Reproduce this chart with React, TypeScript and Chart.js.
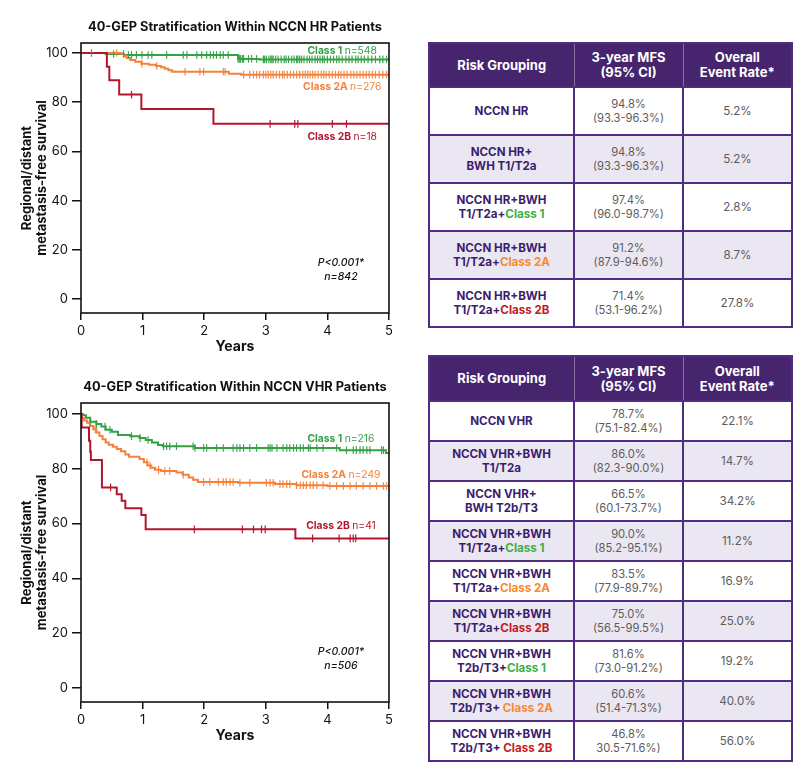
import React, { useEffect, useRef } from 'react';
import { Chart, registerables } from 'chart.js';

Chart.register(...registerables);

type Step = [number, number];

// ---------- Chart data ----------
const X_TICKS = [0, 1, 2, 3, 4, 5];
const Y_TICKS = [0, 20, 40, 60, 80, 100];

// NCCN HR patients: [years, survival %] step points
const HR_CLASS1_STEPS: Step[] = [[0, 100], [0.40, 99.6], [0.70, 99.2], [2.55, 97.6], [2.90, 97.4], [5, 97.4]];
const HR_CLASS1_CENSOR = [0.17, 0.53, 0.69, 0.77, 0.82, 0.90, 0.99, 1.09, 1.15, 1.39, 1.66, 1.72, 1.88, 1.96, 2.04, 2.10, 2.15, 2.20, 2.26, 2.31, 2.39, 2.55, 2.57, 2.59, 2.62, 2.64, 2.72, 2.77, 2.85, 2.96, 2.98, 3.01, 3.05, 3.08, 3.10, 3.12, 3.16, 3.20, 3.25, 3.30, 3.33, 3.37, 3.42, 3.46, 3.50, 3.52, 3.55, 3.58, 3.62, 3.67, 3.71, 3.75, 3.80, 3.84, 3.88, 3.92, 3.95, 4.00, 4.05, 4.10, 4.15, 4.19, 4.24, 4.30, 4.35, 4.40, 4.46, 4.50, 4.55, 4.60, 4.66, 4.72, 4.78, 4.85, 4.90, 4.96];
const HR_CLASS2A_STEPS: Step[] = [[0, 100], [0.66, 99.6], [0.70, 98.8], [0.74, 98.0], [0.80, 97.2], [0.88, 96.4], [0.98, 95.6], [1.10, 95.2], [1.22, 94.7], [1.30, 94.2], [1.36, 93.6], [1.42, 93.0], [1.48, 92.4], [2.40, 91.6], [2.60, 91.2], [5, 91.2]];
const HR_CLASS2A_CENSOR = [0.58, 0.99, 1.23, 1.69, 1.93, 1.99, 2.31, 2.34, 2.64, 2.74, 2.80, 2.85, 2.90, 2.96, 3.00, 3.04, 3.08, 3.12, 3.17, 3.22, 3.27, 3.30, 3.35, 3.40, 3.45, 3.50, 3.55, 3.60, 3.64, 3.68, 3.72, 3.76, 3.80, 3.85, 3.90, 3.94, 3.98, 4.03, 4.08, 4.13, 4.18, 4.22, 4.27, 4.32, 4.38, 4.43, 4.48, 4.53, 4.58, 4.63, 4.68, 4.73, 4.78, 4.84, 4.90, 4.96];
const HR_CLASS2B_STEPS: Step[] = [[0, 100], [0.42, 94.4], [0.46, 88.9], [0.62, 83.1], [0.98, 77.2], [2.15, 71.2], [5, 71.2]];
const HR_CLASS2B_CENSOR = [0.82, 3.07, 3.47, 3.52, 4.08, 4.31];

// NCCN VHR patients
const VHR_CLASS1_STEPS: Step[] = [[0, 100], [0.03, 99.5], [0.08, 98.6], [0.15, 97.2], [0.25, 96.3], [0.33, 95.4], [0.40, 94.2], [0.50, 93.5], [0.60, 92.3], [0.80, 91.9], [0.95, 91.2], [1.05, 90.5], [1.15, 89.6], [1.25, 88.7], [1.33, 88.2], [1.85, 87.6], [4.20, 86.8], [4.95, 85.8], [5, 85.8]];
const VHR_CLASS1_CENSOR = [0.15, 0.25, 0.39, 0.47, 0.82, 0.96, 1.09, 1.34, 1.39, 1.44, 1.55, 1.82, 1.85, 1.99, 2.04, 2.20, 2.31, 2.47, 2.53, 2.58, 2.64, 2.74, 2.85, 3.04, 3.07, 3.10, 3.18, 3.28, 3.34, 3.39, 3.45, 3.50, 3.56, 3.61, 3.69, 3.72, 3.83, 3.93, 4.15, 4.31, 4.42, 4.47, 4.53, 4.58, 4.64, 4.69, 4.88, 4.91];
const VHR_CLASS2A_STEPS: Step[] = [[0, 100], [0.01, 98.4], [0.05, 97.6], [0.10, 96.8], [0.15, 95.6], [0.20, 94.4], [0.25, 93.2], [0.30, 92.0], [0.35, 90.8], [0.40, 89.6], [0.45, 88.8], [0.52, 88.0], [0.58, 87.2], [0.65, 86.4], [0.72, 85.2], [0.78, 84.4], [0.95, 83.6], [1.02, 82.4], [1.08, 81.2], [1.14, 80.4], [1.20, 79.6], [1.30, 79.2], [1.55, 78.6], [1.65, 77.8], [1.75, 76.8], [1.82, 76.0], [1.90, 75.2], [2.55, 74.9], [3.15, 74.4], [3.50, 74.0], [4.00, 73.7], [5, 73.7]];
const VHR_CLASS2A_CENSOR = [0.23, 1.07, 1.12, 1.26, 1.36, 1.44, 1.66, 1.99, 2.09, 2.23, 2.31, 2.36, 2.42, 2.47, 2.58, 2.74, 3.01, 3.07, 3.12, 3.23, 3.28, 3.34, 3.39, 3.50, 3.56, 3.61, 3.66, 3.72, 3.77, 3.83, 3.93, 4.04, 4.15, 4.26, 4.37, 4.47, 4.58, 4.69, 4.80, 4.91, 4.96];
const VHR_CLASS2B_STEPS: Step[] = [[0, 100], [0.01, 95.1], [0.13, 90.2], [0.15, 86.2], [0.16, 83.2], [0.34, 73.2], [0.58, 70.7], [0.66, 68.3], [0.72, 65.6], [0.98, 63.1], [1.05, 57.9], [3.48, 54.6], [5, 54.6]];
const VHR_CLASS2B_CENSOR = [0.48, 1.84, 2.62, 2.80, 2.93, 2.99, 3.76, 4.19, 4.37, 4.42, 4.46];

// ---------- Table data ----------
const HR_GROUP_LINE1 = ['NCCN HR', 'NCCN HR+', 'NCCN HR+BWH', 'NCCN HR+BWH', 'NCCN HR+BWH'];
const HR_GROUP_LINE2 = ['', 'BWH T1/T2a', 'T1/T2a+', 'T1/T2a+', 'T1/T2a+'];
const HR_GROUP_CLASS = ['', '', 'Class 1', 'Class 2A', 'Class 2B'];
const HR_MFS = ['94.8%', '94.8%', '97.4%', '91.2%', '71.4%'];
const HR_CI = ['(93.3-96.3%)', '(93.3-96.3%)', '(96.0-98.7%)', '(87.9-94.6%)', '(53.1-96.2%)'];
const HR_EVENT = ['5.2%', '5.2%', '2.8%', '8.7%', '27.8%'];

const VHR_GROUP_LINE1 = ['NCCN VHR', 'NCCN VHR+BWH', 'NCCN VHR+', 'NCCN VHR+BWH', 'NCCN VHR+BWH', 'NCCN VHR+BWH', 'NCCN VHR+BWH', 'NCCN VHR+BWH', 'NCCN VHR+BWH'];
const VHR_GROUP_LINE2 = ['', 'T1/T2a', 'BWH T2b/T3', 'T1/T2a+', 'T1/T2a+', 'T1/T2a+', 'T2b/T3+', 'T2b/T3+ ', 'T2b/T3+ '];
const VHR_GROUP_CLASS = ['', '', '', 'Class 1', 'Class 2A', 'Class 2B', 'Class 1', 'Class 2A', 'Class 2B'];
const VHR_MFS = ['78.7%', '86.0%', '66.5%', '90.0%', '83.5%', '75.0%', '81.6%', '60.6%', '46.8%'];
const VHR_CI = ['(75.1-82.4%)', '(82.3-90.0%)', '(60.1-73.7%)', '(85.2-95.1%)', '(77.9-89.7%)', '(56.5-99.5%)', '(73.0-91.2%)', '(51.4-71.3%)', '30.5-71.6%)'];
const VHR_EVENT = ['22.1%', '14.7%', '34.2%', '11.2%', '16.9%', '25.0%', '19.2%', '40.0%', '56.0%'];

// ---------- Styles ----------
const FONT = 'Inter, "Noto Sans", "DejaVu Sans", sans-serif';
const LINE_COLORS = { c1: '#35a046', c2a: '#f6813a', c2b: '#b3172f' };
const CENSOR_COLORS = { c1: 'rgba(53,160,70,0.95)', c2a: 'rgba(246,129,58,0.95)', c2b: 'rgba(179,23,47,1)' };
const TABLE_CLASS_COLORS: Record<string, string> = { 'Class 1': '#3cae48', 'Class 2A': '#f7892f', 'Class 2B': '#c41a1f' };
const PURPLE = '#46246e';
const GRID_PURPLE = '#4e2d82';
const TEXT_PURPLE = '#3b1d6e';
const LAVENDER = '#ebe7f2';

function survivalAt(steps: Step[], t: number): number {
  let s = steps[0][1];
  for (const [x, y] of steps) {
    if (x <= t) s = y;
    else break;
  }
  return s;
}

type Label = { bold: string; normal: string; color: string; x: number; y: number; italic?: boolean };

const overlayPlugin = {
  id: 'overlay',
  afterDatasetsDraw(chart: any, _args: any, opts: any) {
    const { ctx, chartArea: a, scales } = chart;
    ctx.save();
    ctx.strokeStyle = '#111';
    ctx.lineWidth = 1.6;
    ctx.strokeRect(a.left, a.top, a.right - a.left, a.bottom - a.top);
    ctx.fillStyle = '#111';
    ctx.font = `bold 12.8px ${FONT}`;
    ctx.textAlign = 'center';
    ctx.textBaseline = 'middle';
    ctx.fillText(opts.title, opts.titleX, opts.titleY);
    for (const l of opts.labels as Label[]) {
      const px = scales.x.getPixelForValue(l.x);
      const py = scales.y.getPixelForValue(l.y);
      ctx.fillStyle = l.color;
      if (l.italic) {
        ctx.font = `italic 500 10.5px ${FONT}`;
        ctx.textAlign = 'center';
        ctx.fillText(l.bold, px, py);
        continue;
      }
      ctx.font = `bold 10.3px ${FONT}`;
      const w1 = ctx.measureText(l.bold).width;
      ctx.font = `10.3px ${FONT}`;
      const w2 = ctx.measureText(l.normal).width;
      const sx = px - (w1 + w2) / 2;
      ctx.textAlign = 'left';
      ctx.font = `bold 10.3px ${FONT}`;
      ctx.fillText(l.bold, sx, py);
      ctx.font = `10.3px ${FONT}`;
      ctx.fillText(l.normal, sx + w1, py);
    }
    ctx.restore();
  },
};

type KMProps = {
  top: number;
  height: number;
  padBottom: number;
  yMin: number;
  yMax: number;
  title: string;
  series: { steps: Step[]; censor: number[]; key: 'c1' | 'c2a' | 'c2b' }[];
  labels: Label[];
};

function KMChart(p: KMProps) {
  const ref = useRef<HTMLCanvasElement | null>(null);
  useEffect(() => {
    if (!ref.current) return;
    const datasets: any[] = [];
    for (const s of p.series) {
      datasets.push({
        data: s.steps.map(([x, y]) => ({ x, y })),
        showLine: true,
        stepped: 'before',
        borderColor: LINE_COLORS[s.key],
        borderWidth: 2,
        pointRadius: 0,
        fill: false,
        order: 2,
      });
      datasets.push({
        data: s.censor.map((t) => ({ x: t, y: survivalAt(s.steps, t) })),
        showLine: false,
        pointStyle: 'line',
        rotation: 90,
        pointRadius: 3.8,
        pointBorderWidth: 1.2,
        borderWidth: 1.2,
        borderColor: CENSOR_COLORS[s.key],
        pointBorderColor: CENSOR_COLORS[s.key],
        order: 1,
      });
    }
    const chart = new Chart(ref.current, {
      type: 'scatter',
      data: { datasets },
      plugins: [overlayPlugin as any],
      options: {
        animation: false,
        responsive: false,
        events: [],
        layout: { padding: { left: 0, right: 11, top: 43, bottom: p.padBottom } },
        plugins: {
          legend: { display: false },
          tooltip: { enabled: false },
          overlay: { title: p.title, titleX: 235, titleY: 27, labels: p.labels },
        } as any,
        scales: {
          x: {
            type: 'linear',
            min: 0,
            max: 5,
            afterBuildTicks: (s: any) => { s.ticks = X_TICKS.map((v) => ({ value: v })); },
            afterFit: (s: any) => { s.height = 47; },
            grid: { display: true, drawOnChartArea: false, drawTicks: true, tickLength: 7, color: '#111', lineWidth: 1.5 },
            border: { display: false },
            ticks: { color: '#111', font: { family: FONT, size: 13 }, padding: 3, maxRotation: 0 },
            title: { display: true, text: 'Years', color: '#111', font: { family: FONT, size: 14, weight: 'bold' }, padding: { top: 0, bottom: 5 } },
          },
          y: {
            type: 'linear',
            min: p.yMin,
            max: p.yMax,
            afterBuildTicks: (s: any) => { s.ticks = Y_TICKS.map((v) => ({ value: v })); },
            afterFit: (s: any) => { s.width = 81; },
            grid: { display: true, drawOnChartArea: false, drawTicks: true, tickLength: 9, color: '#111', lineWidth: 1.5 },
            border: { display: false },
            ticks: { color: '#111', font: { family: FONT, size: 13 }, padding: 4 },
            title: {
              display: true,
              text: ['Regional/distant', 'metastasis-free survival'],
              color: '#111',
              font: { family: FONT, size: 13, weight: 'bold' },
              padding: { top: 19, bottom: 0 },
            },
          },
        } as any,
      },
    });
    return () => chart.destroy();
  }, []);
  return (
    <canvas
      ref={ref}
      width={400}
      height={p.height}
      style={{ position: 'absolute', left: 0, top: p.top, width: 400, height: p.height }}
    />
  );
}

type TableProps = {
  top: number;
  headerH: number;
  rowH: number;
  lineH: number;
  line1: string[];
  line2: string[];
  cls: string[];
  mfs: string[];
  ci: string[];
  ev: string[];
};

function RiskTable(p: TableProps) {
  const cellBorder = `2px solid ${GRID_PURPLE}`;
  const th: React.CSSProperties = {
    color: '#fff',
    fontWeight: 700,
    fontSize: 13,
    lineHeight: '15px',
    textAlign: 'center',
    verticalAlign: 'middle',
    padding: 0,
    borderLeft: '1px solid rgba(255,255,255,0.35)',
    borderRight: '1px solid rgba(255,255,255,0.35)',
  };
  const td: React.CSSProperties = {
    border: cellBorder,
    textAlign: 'center',
    verticalAlign: 'middle',
    padding: 0,
    lineHeight: `${p.lineH}px`,
  };
  return (
    <table
      style={{
        position: 'absolute',
        left: 428,
        top: p.top,
        width: 363,
        borderCollapse: 'collapse',
        tableLayout: 'fixed',
        fontFamily: FONT,
        border: cellBorder,
      }}
    >
      <colgroup>
        <col style={{ width: 145 }} />
        <col style={{ width: 109 }} />
        <col style={{ width: 109 }} />
      </colgroup>
      <thead>
        <tr style={{ height: p.headerH, background: PURPLE }}>
          <th style={th}>Risk Grouping</th>
          <th style={th}>3-year MFS<br />(95% CI)</th>
          <th style={th}>Overall<br />Event Rate*</th>
        </tr>
      </thead>
      <tbody>
        {p.line1.map((l1, i) => (
          <tr key={i} style={{ height: p.rowH, background: i % 2 === 1 ? LAVENDER : '#fff' }}>
            <td style={{ ...td, color: TEXT_PURPLE, fontWeight: 700, fontSize: 11.6 }}>
              {l1}
              {p.line2[i] || p.cls[i] ? <br /> : null}
              {p.line2[i]}
              {p.cls[i] ? <span style={{ color: TABLE_CLASS_COLORS[p.cls[i]] }}>{p.cls[i]}</span> : null}
            </td>
            <td style={{ ...td, color: '#5b5b5b', fontSize: 11.2 }}>
              {p.mfs[i]}
              <br />
              {p.ci[i]}
            </td>
            <td style={{ ...td, color: '#5b5b5b', fontSize: 11.6 }}>{p.ev[i]}</td>
          </tr>
        ))}
      </tbody>
    </table>
  );
}

export default function App() {
  useEffect(() => {
    document.body.style.margin = '0';
    document.body.style.background = '#fff';
  }, []);
  return (
    <div style={{ position: 'relative', width: 800, height: 773, background: '#fff', overflow: 'hidden' }}>
      <KMChart
        top={0}
        height={360}
        padBottom={0}
        yMin={-5.69}
        yMax={104.07}
        title="40-GEP Stratification Within NCCN HR Patients"
        series={[
          { steps: HR_CLASS2B_STEPS, censor: HR_CLASS2B_CENSOR, key: 'c2b' },
          { steps: HR_CLASS2A_STEPS, censor: HR_CLASS2A_CENSOR, key: 'c2a' },
          { steps: HR_CLASS1_STEPS, censor: HR_CLASS1_CENSOR, key: 'c1' },
        ]}
        labels={[
          { bold: 'Class 1 ', normal: 'n=548', color: LINE_COLORS.c1, x: 4.24, y: 100.8 },
          { bold: 'Class 2A ', normal: 'n=276', color: LINE_COLORS.c2a, x: 4.24, y: 86.2 },
          { bold: 'Class 2B ', normal: 'n=18', color: LINE_COLORS.c2b, x: 4.24, y: 65.9 },
          { bold: 'P<0.001*', normal: '', color: '#111', x: 4.22, y: 14.6, italic: true },
          { bold: 'n=842', normal: '', color: '#111', x: 4.22, y: 8.9, italic: true },
        ]}
      />
      <KMChart
        top={360}
        height={400}
        padBottom={11}
        yMin={-5.1}
        yMax={104.0}
        title="40-GEP Stratification Within NCCN VHR Patients"
        series={[
          { steps: VHR_CLASS2B_STEPS, censor: VHR_CLASS2B_CENSOR, key: 'c2b' },
          { steps: VHR_CLASS2A_STEPS, censor: VHR_CLASS2A_CENSOR, key: 'c2a' },
          { steps: VHR_CLASS1_STEPS, censor: VHR_CLASS1_CENSOR, key: 'c1' },
        ]}
        labels={[
          { bold: 'Class 1 ', normal: 'n=216', color: LINE_COLORS.c1, x: 4.22, y: 90.9 },
          { bold: 'Class 2A ', normal: 'n=249', color: LINE_COLORS.c2a, x: 4.22, y: 77.7 },
          { bold: 'Class 2B ', normal: 'n=41', color: LINE_COLORS.c2b, x: 4.22, y: 59.1 },
          { bold: 'P<0.001*', normal: '', color: '#111', x: 4.22, y: 13.1, italic: true },
          { bold: 'n=506', normal: '', color: '#111', x: 4.22, y: 8.0, italic: true },
        ]}
      />
      <RiskTable
        top={42}
        headerH={44}
        rowH={48}
        lineH={14}
        line1={HR_GROUP_LINE1}
        line2={HR_GROUP_LINE2}
        cls={HR_GROUP_CLASS}
        mfs={HR_MFS}
        ci={HR_CI}
        ev={HR_EVENT}
      />
      <RiskTable
        top={355}
        headerH={45}
        rowH={40}
        lineH={14}
        line1={VHR_GROUP_LINE1}
        line2={VHR_GROUP_LINE2}
        cls={VHR_GROUP_CLASS}
        mfs={VHR_MFS}
        ci={VHR_CI}
        ev={VHR_EVENT}
      />
    </div>
  );
}
